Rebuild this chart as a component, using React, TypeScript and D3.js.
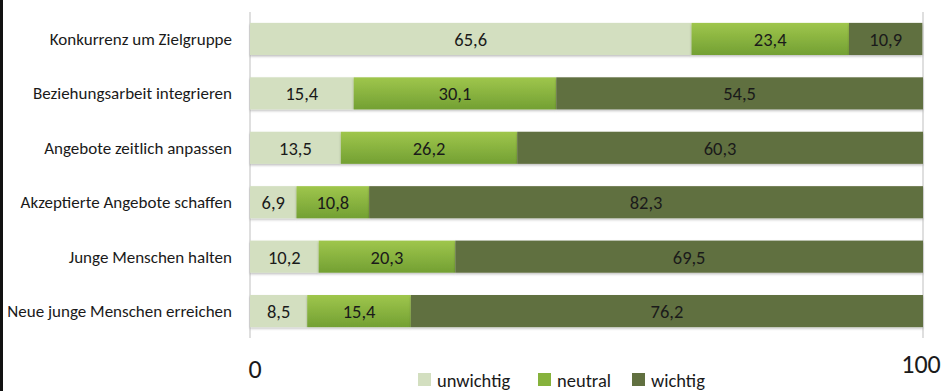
import React, { useEffect } from "react";
import * as d3 from "d3";

const categories = [
  "Konkurrenz um Zielgruppe",
  "Beziehungsarbeit integrieren",
  "Angebote zeitlich anpassen",
  "Akzeptierte Angebote schaffen",
  "Junge Menschen halten",
  "Neue junge Menschen erreichen",
];
const seriesNames = ["unwichtig", "neutral", "wichtig"];
const unwichtig = [65.6, 15.4, 13.5, 6.9, 10.2, 8.5];
const neutral = [23.4, 30.1, 26.2, 10.8, 20.3, 15.4];
const wichtig = [10.9, 54.5, 60.3, 82.3, 69.5, 76.2];
const xTicks = [0, 100];

const W = 945;
const H = 391;

export default function App() {
  useEffect(() => {
    document.body.style.margin = "0";
  }, []);

  const x = d3.scaleLinear().domain([0, 100]).range([250, 923]);
  const y = d3.scaleBand<string>().domain(categories).range([12, 338]).paddingInner(0.41).paddingOuter(0.2);

  const rows = categories.map((c, i) => ({ cat: c, unwichtig: unwichtig[i], neutral: neutral[i], wichtig: wichtig[i] }));
  const stack = d3.stack<any>().keys(seriesNames)(rows);
  const fills = ["#d3dfc0", "url(#gNeutral)", "#617040"];
  const legendColors = ["#d3dfc0", "#86b23c", "#617040"];
  const fmt = (v: number) => v.toFixed(1).replace(".", ",");

  const legendX = [418, 538, 632];

  return (
    <svg width={W} height={H} style={{ display: "block", background: "#fff" }} fontFamily="Carlito, 'Open Sans', sans-serif">
      <defs>
        <linearGradient id="gNeutral" x1="0" y1="0" x2="0" y2="1">
          <stop offset="0" stopColor="#9fc64c" />
          <stop offset="1" stopColor="#73a033" />
        </linearGradient>
        <filter id="sh" x="-5%" y="-20%" width="110%" height="160%">
          <feDropShadow dx="0" dy="1.5" stdDeviation="1" floodColor="#000" floodOpacity="0.25" />
        </filter>
      </defs>
      <rect x={0} y={0} width={3} height={H} fill="#111" />
      {/* axis lines */}
      <line x1={x(0)} x2={x(0)} y1={12} y2={338} stroke="#bfbfbf" strokeWidth={1} />
      <line x1={x(100)} x2={x(100)} y1={12} y2={338} stroke="#bfbfbf" strokeWidth={1} />
      {/* bars */}
      {stack.map((s, si) => (
        <g key={s.key} fill={fills[si]}>
          {s.map((d, i) => (
            <rect
              key={i}
              x={x(d[0])}
              y={y(categories[i])!}
              width={Math.max(0, x(Math.min(100, d[1])) - x(d[0]))}
              height={y.bandwidth()}
              filter="url(#sh)"
            />
          ))}
        </g>
      ))}
      {/* value labels */}
      {stack.map((s, si) => (
        <g key={"l" + s.key} fontSize={18.5} fill="#1a1a1a" textAnchor="middle">
          {s.map((d, i) => (
            <text key={i} x={(x(d[0]) + x(Math.min(100, d[1]))) / 2} y={y(categories[i])! + y.bandwidth() / 2 + 7}>
              {fmt(d[1] - d[0])}
            </text>
          ))}
        </g>
      ))}
      {/* category labels */}
      <g fontSize={17} fill="#1a1a1a" textAnchor="end">
        {categories.map((c) => (
          <text key={c} x={232} y={y(c)! + y.bandwidth() / 2 + 6}>
            {c}
          </text>
        ))}
      </g>
      {/* x tick labels */}
      <text x={x(xTicks[0]) + 5} y={378} fontSize={26} textAnchor="middle" fill="#1a1a1a">
        {xTicks[0]}
      </text>
      <text x={x(xTicks[1]) - 2} y={373} fontSize={26} textAnchor="middle" fill="#1a1a1a">
        {xTicks[1]}
      </text>
      {/* legend */}
      {seriesNames.map((n, i) => (
        <g key={n}>
          <rect x={legendX[i]} y={373} width={13} height={13} fill={legendColors[i]} />
          <text x={legendX[i] + 19} y={387} fontSize={18.5} fill="#1a1a1a">
            {n}
          </text>
        </g>
      ))}
    </svg>
  );
}
